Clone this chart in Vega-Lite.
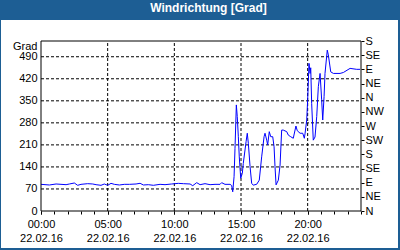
{
  "$schema": "https://vega.github.io/schema/vega-lite/v6.json",
  "autosize": "none",
  "padding": {"left": 1, "top": 20, "right": 2, "bottom": 2},
  "width": 397,
  "height": 228,
  "background": "#1d5e94",
  "title": {"text": "Windrichtung [Grad]", "color": "white", "font": "Liberation Sans", "fontSize": 12, "fontWeight": "bold", "anchor": "middle", "frame": "group", "offset": 5, "dx": 9},
  "config": {
    "view": {"fill": "white", "stroke": null},
    "axis": {"labelFont": "Liberation Sans", "labelFontSize": 11, "labelColor": "black", "titleFont": "Liberation Sans", "titleFontSize": 11, "titleFontWeight": "normal", "titleColor": "black", "tickColor": "black", "grid": false, "domain": false, "labelFlush": false, "labelBound": false}
  },
  "resolve": {"axis": {"y": "independent", "x": "independent"}},
  "layer": [
    {
      "data": {"values": [{"v": 70}, {"v": 140}, {"v": 210}, {"v": 280}, {"v": 350}, {"v": 420}, {"v": 490}]},
      "mark": {"type": "rule", "color": "black", "strokeWidth": 1, "strokeDash": [3, 2]},
      "encoding": {
        "y": {"field": "v", "type": "quantitative", "scale": {"domain": [-117.53, 606.71], "nice": false, "zero": false},
          "axis": {"orient": "left", "offset": -40, "values": [0, 70, 140, 210, 280, 350, 420, 490], "ticks": false, "labelPadding": 4, "title": "Grad", "titleAngle": 0, "titleAlign": "right", "titleBaseline": "middle", "titleX": -4, "titleY": 26}},
        "x": {"datum": 0, "type": "quantitative", "scale": {"domain": [-3, 26.775], "nice": false, "zero": false}, "axis": null},
        "x2": {"datum": 24}
      }
    },
    {
      "data": {"values": [{"h": 5}, {"h": 10}, {"h": 15}, {"h": 20}]},
      "mark": {"type": "rule", "color": "black", "strokeWidth": 1, "strokeDash": [3, 2]},
      "encoding": {
        "x": {"field": "h", "type": "quantitative", "scale": {"domain": [-3, 26.775], "nice": false, "zero": false},
          "axis": {"orient": "bottom", "offset": -37, "values": [0,1,2,3,4,5,6,7,8,9,10,11,12,13,14,15,16,17,18,19,20,21,22,23,24], "ticks": true, "tickSize": 3, "labels": false, "title": null}},
        "y": {"datum": 0, "type": "quantitative", "scale": {"domain": [-117.53, 606.71], "nice": false, "zero": false}, "axis": null},
        "y2": {"datum": 540}
      }
    },
    {
      "data": {"values": [
        {"h": 0, "dir": 84.7}, {"h": 0.63, "dir": 82.6}, {"h": 1.13, "dir": 85.8}, {"h": 1.88, "dir": 83.6}, {"h": 2.13, "dir": 85.8},
        {"h": 2.5, "dir": 88.9}, {"h": 2.75, "dir": 81.6}, {"h": 3.0, "dir": 84.7}, {"h": 3.5, "dir": 86.8}, {"h": 3.88, "dir": 85.8},
        {"h": 4.13, "dir": 83.6}, {"h": 4.5, "dir": 81.6}, {"h": 4.75, "dir": 85.8}, {"h": 5.0, "dir": 81.6}, {"h": 5.25, "dir": 87.8},
        {"h": 5.5, "dir": 84.7}, {"h": 5.88, "dir": 82.6}, {"h": 6.25, "dir": 84.7}, {"h": 6.63, "dir": 84.7}, {"h": 7.13, "dir": 85.8},
        {"h": 7.43, "dir": 88}, {"h": 7.68, "dir": 82.6}, {"h": 8.05, "dir": 83.6}, {"h": 8.43, "dir": 81.6}, {"h": 8.93, "dir": 84.7},
        {"h": 9.3, "dir": 83.6}, {"h": 9.8, "dir": 85.8}, {"h": 10.3, "dir": 87.8}, {"h": 10.68, "dir": 86.8}, {"h": 11.18, "dir": 85.8},
        {"h": 11.38, "dir": 80.5}, {"h": 11.68, "dir": 90}, {"h": 11.93, "dir": 83.6}, {"h": 12.3, "dir": 86.8}, {"h": 12.68, "dir": 83.6},
        {"h": 13.05, "dir": 84.7}, {"h": 13.43, "dir": 84.7}, {"h": 13.55, "dir": 90}, {"h": 13.8, "dir": 84.7}, {"h": 14.18, "dir": 84.7},
        {"h": 14.3, "dir": 81}, {"h": 14.38, "dir": 61}, {"h": 14.48, "dir": 109}, {"h": 14.55, "dir": 199}, {"h": 14.65, "dir": 337},
        {"h": 14.72, "dir": 300}, {"h": 14.8, "dir": 236}, {"h": 14.87, "dir": 172}, {"h": 14.98, "dir": 104}, {"h": 15.1, "dir": 120},
        {"h": 15.17, "dir": 151}, {"h": 15.38, "dir": 220}, {"h": 15.47, "dir": 247}, {"h": 15.55, "dir": 215}, {"h": 15.68, "dir": 141},
        {"h": 15.8, "dir": 88}, {"h": 15.92, "dir": 82}, {"h": 16.18, "dir": 85}, {"h": 16.37, "dir": 98}, {"h": 16.55, "dir": 172},
        {"h": 16.73, "dir": 236}, {"h": 16.8, "dir": 247}, {"h": 16.93, "dir": 225}, {"h": 17.0, "dir": 210}, {"h": 17.12, "dir": 252},
        {"h": 17.23, "dir": 236}, {"h": 17.38, "dir": 236}, {"h": 17.48, "dir": 204}, {"h": 17.55, "dir": 141}, {"h": 17.63, "dir": 83},
        {"h": 17.8, "dir": 98}, {"h": 17.93, "dir": 146}, {"h": 18.05, "dir": 257}, {"h": 18.17, "dir": 257}, {"h": 18.43, "dir": 252},
        {"h": 18.55, "dir": 241}, {"h": 18.73, "dir": 236}, {"h": 18.92, "dir": 231}, {"h": 19.12, "dir": 270}, {"h": 19.22, "dir": 255},
        {"h": 19.43, "dir": 247}, {"h": 19.63, "dir": 247}, {"h": 19.75, "dir": 231}, {"h": 19.8, "dir": 245}, {"h": 19.93, "dir": 289},
        {"h": 20.0, "dir": 353}, {"h": 20.1, "dir": 469}, {"h": 20.18, "dir": 437}, {"h": 20.23, "dir": 455}, {"h": 20.3, "dir": 342},
        {"h": 20.42, "dir": 225}, {"h": 20.55, "dir": 235}, {"h": 20.68, "dir": 300}, {"h": 20.8, "dir": 395}, {"h": 20.93, "dir": 437},
        {"h": 21.05, "dir": 353}, {"h": 21.13, "dir": 289}, {"h": 21.23, "dir": 363}, {"h": 21.3, "dir": 437}, {"h": 21.47, "dir": 511},
        {"h": 21.55, "dir": 496}, {"h": 21.73, "dir": 442}, {"h": 21.93, "dir": 437}, {"h": 22.43, "dir": 437}, {"h": 22.68, "dir": 440},
        {"h": 23.18, "dir": 453}, {"h": 23.68, "dir": 450}, {"h": 23.93, "dir": 450}
      ]},
      "mark": {"type": "line", "color": "#0000ff", "strokeWidth": 1},
      "encoding": {
        "x": {"field": "h", "type": "quantitative", "scale": {"domain": [-3, 26.775], "nice": false, "zero": false},
          "axis": {"orient": "bottom", "offset": -37, "values": [0, 5, 10, 15, 20], "ticks": true, "tickSize": 3, "labelPadding": 4, "labelLineHeight": 14, "title": null,
            "labelExpr": "[(datum.value < 10 ? '0' : '') + datum.value + ':00', '22.02.16']"}},
        "y": {"field": "dir", "type": "quantitative", "scale": {"domain": [-117.53, 606.71], "nice": false, "zero": false},
          "axis": {"orient": "right", "offset": -37, "values": [0, 45, 90, 135, 180, 225, 270, 315, 360, 405, 450, 495, 540], "ticks": true, "tickSize": 3, "labelPadding": 1, "title": null,
            "labelExpr": "['N','NE','E','SE','S','SW','W','NW'][(datum.value / 45) % 8]"}}
      }
    },
    {
      "data": {"values": [{}]},
      "mark": {"type": "rect", "fillOpacity": 0, "stroke": "black", "strokeWidth": 1},
      "encoding": {
        "x": {"datum": 0, "type": "quantitative", "scale": {"domain": [-3, 26.775], "nice": false, "zero": false}, "axis": null},
        "x2": {"datum": 24},
        "y": {"datum": 0, "type": "quantitative", "scale": {"domain": [-117.53, 606.71], "nice": false, "zero": false}, "axis": null},
        "y2": {"datum": 540}
      }
    }
  ]
}
